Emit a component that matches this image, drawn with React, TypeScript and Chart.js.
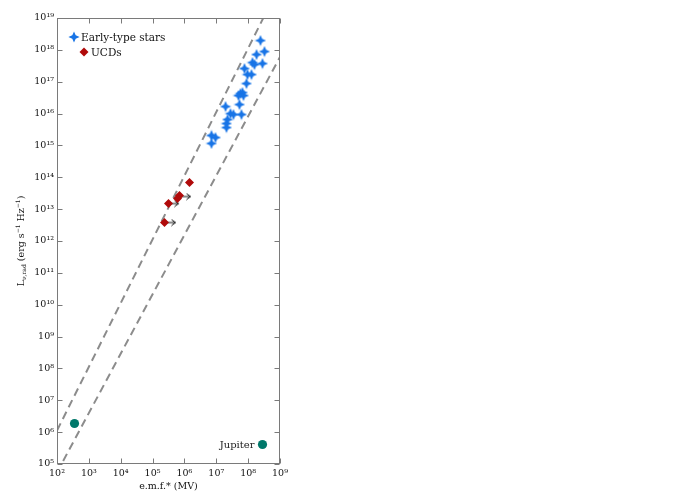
import React, { useEffect, useRef } from "react";
import { Chart, registerables } from "chart.js";

Chart.register(...registerables);

// ---- data ----
const starEmf = [2.44e8, 3.26e8, 1.83e8, 2.82e8, 1.37e8, 1.58e8, 7.67e7, 9.53e7, 1.27e8, 8.87e7, 5.75e7, 6.64e7, 7.14e7, 4.98e7, 5.35e7, 1.95e7, 2.79e7, 3.47e7, 6.18e7, 2.25e7, 2.09e7, 2.09e7, 7.06e6, 9.44e6, 7.06e6];
const starLum = [1.96e18, 8.86e17, 7.13e17, 3.72e17, 4.0e17, 3.46e17, 2.59e17, 1.68e17, 1.68e17, 8.77e16, 4.26e16, 4.57e16, 3.68e16, 3.68e16, 1.92e16, 1.66e16, 1.0e16, 9.33e15, 9.33e15, 6.5e15, 4.87e15, 3.65e15, 2.05e15, 1.77e15, 1.15e15];
const ucdEmf = [1.44e6, 7.0e5, 6.05e5, 3.16e5, 2.37e5];
const ucdLum = [6.86e13, 2.67e13, 2.15e13, 1.5e13, 3.8e12];
const limitEmf = [4.54e5, 1.08e6, 3.65e5];
const limitLum = [1.5e13, 2.49e13, 3.8e12];
const planetEmf = [3.54e2, 2.82e8];
const planetLum = [1.87e6, 4.09e5];
const planetNames = ["", "Jupiter"];
const upperEmf = [1e2, 1e9];
const upperLum = [1.12e6, 1.12e20];
const lowerEmf = [1e2, 1e9];
const lowerLum = [5.46e4, 6.0e17];
const xTickValues = [1e2, 1e3, 1e4, 1e5, 1e6, 1e7, 1e8, 1e9];
const yTickValues = [1e5, 1e6, 1e7, 1e8, 1e9, 1e10, 1e11, 1e12, 1e13, 1e14, 1e15, 1e16, 1e17, 1e18, 1e19];
const legendLabels = ["Early-type stars", "UCDs"];
const xTitle = "e.m.f.* (MV)";

const FONT = "'DejaVu Serif', 'Liberation Serif', serif";
const STAR_COLOR = "#1874e6";
const UCD_COLOR = "#b00a0a";
const PLANET_COLOR = "#00786a";
const SUP = "⁰¹²³⁴⁵⁶⁷⁸⁹";

const pow10Label = (v: number) =>
  "10" + String(Math.round(Math.log10(v))).split("").map((d) => SUP[+d]).join("");

function makeStar(color: string) {
  const size = 12;
  const c = document.createElement("canvas");
  c.width = size;
  c.height = size;
  const g = c.getContext("2d")!;
  const m = size / 2;
  const r = 5.6;
  const ri = 2.4;
  g.fillStyle = color;
  g.beginPath();
  for (let i = 0; i < 8; i++) {
    const ang = (i * Math.PI) / 4 - Math.PI / 2;
    const rr = i % 2 === 0 ? r : ri;
    g.lineTo(m + rr * Math.cos(ang), m + rr * Math.sin(ang));
  }
  g.closePath();
  g.fill();
  return c;
}

function makeArrow() {
  const c = document.createElement("canvas");
  c.width = 13;
  c.height = 8;
  const g = c.getContext("2d")!;
  g.strokeStyle = "#111";
  g.lineWidth = 1;
  g.beginPath();
  g.moveTo(1, 4);
  g.lineTo(11.5, 4);
  g.moveTo(7.5, 1);
  g.lineTo(11.5, 4);
  g.lineTo(7.5, 7);
  g.stroke();
  return c;
}

export default function App() {
  const ref = useRef<HTMLCanvasElement | null>(null);

  useEffect(() => {
    if (!ref.current) return;
    const starImg = makeStar(STAR_COLOR);
    const arrowImg = makeArrow();

    const framePlugin = {
      id: "frame",
      afterDatasetsDraw(chart: any) {
        const { ctx, chartArea: a, scales } = chart;
        const x = scales.x;
        const y = scales.y;
        ctx.save();
        ctx.strokeStyle = "#7a7a7a";
        ctx.lineWidth = 1;
        const l = Math.round(a.left) + 0.5;
        const r = Math.round(a.right) - 0.5;
        const t = Math.round(a.top) + 0.5;
        const b = Math.round(a.bottom) - 0.5;
        ctx.strokeRect(l, t, r - l, b - t);
        const L = 5;
        ctx.beginPath();
        xTickValues.forEach((v) => {
          const p = Math.round(x.getPixelForValue(v)) + 0.5;
          ctx.moveTo(p, b);
          ctx.lineTo(p, b - L);
          ctx.moveTo(p, t);
          ctx.lineTo(p, t + L);
        });
        yTickValues.forEach((v) => {
          const p = Math.round(y.getPixelForValue(v)) + 0.5;
          ctx.moveTo(l, p);
          ctx.lineTo(l + L, p);
          ctx.moveTo(r, p);
          ctx.lineTo(r - L, p);
        });
        ctx.stroke();
        ctx.restore();
      },
    };

    const textPlugin = {
      id: "texts",
      afterDraw(chart: any) {
        const { ctx, chartArea: a } = chart;
        ctx.save();
        // legend
        ctx.fillStyle = "#111";
        ctx.textBaseline = "middle";
        ctx.textAlign = "left";
        ctx.font = `10.5px ${FONT}`;
        const lx = a.left + 17;
        const ly = a.top + 19;
        ctx.drawImage(starImg, lx - starImg.width / 2, ly - starImg.height / 2);
        ctx.fillText(legendLabels[0], lx + 7, ly + 1);
        const dx = lx + 10;
        const dy = ly + 15;
        ctx.fillStyle = UCD_COLOR;
        ctx.beginPath();
        ctx.moveTo(dx, dy - 4.5);
        ctx.lineTo(dx + 4.5, dy);
        ctx.lineTo(dx, dy + 4.5);
        ctx.lineTo(dx - 4.5, dy);
        ctx.closePath();
        ctx.fill();
        ctx.fillStyle = "#111";
        ctx.fillText(legendLabels[1], dx + 7, dy + 1);

        // planet labels
        const meta = chart.getDatasetMeta(3);
        meta.data.forEach((el: any, i: number) => {
          if (!planetNames[i]) return;
          ctx.textAlign = "right";
          ctx.font = `10px ${FONT}`;
          ctx.fillStyle = "#222";
          ctx.fillText(planetNames[i], el.x - 8, el.y + 1);
        });

        // y title with sub/superscripts
        const segs = [
          { t: "L", s: 9.5, d: 0 },
          { t: "ν,rad", s: 6, d: 2.5 },
          { t: " (erg s", s: 9.5, d: 0 },
          { t: "−1", s: 6, d: -3.5 },
          { t: " Hz", s: 9.5, d: 0 },
          { t: "−1", s: 6, d: -3.5 },
          { t: ")", s: 9.5, d: 0 },
        ];
        let total = 0;
        segs.forEach((sg) => {
          ctx.font = `${sg.s}px ${FONT}`;
          total += ctx.measureText(sg.t).width;
        });
        ctx.translate(22, (a.top + a.bottom) / 2);
        ctx.rotate(-Math.PI / 2);
        ctx.textAlign = "left";
        ctx.textBaseline = "middle";
        ctx.fillStyle = "#111";
        let px = -total / 2;
        segs.forEach((sg) => {
          ctx.font = `${sg.s}px ${FONT}`;
          ctx.fillText(sg.t, px, sg.d);
          px += ctx.measureText(sg.t).width;
        });
        ctx.restore();
      },
    };

    const zip = (xs: number[], ys: number[]) => xs.map((v, i) => ({ x: v, y: ys[i] }));

    const chart = new Chart(ref.current, {
      type: "scatter",
      data: {
        datasets: [
          {
            label: legendLabels[0],
            data: zip(starEmf, starLum),
            pointStyle: starImg as any,
            order: 0,
          },
          {
            label: legendLabels[1],
            data: zip(ucdEmf, ucdLum),
            pointStyle: "rectRot",
            pointRadius: 4.5,
            backgroundColor: UCD_COLOR,
            borderColor: UCD_COLOR,
            borderWidth: 0,
            order: 1,
          },
          {
            label: "limits",
            data: zip(limitEmf, limitLum),
            pointStyle: arrowImg as any,
            order: 2,
          },
          {
            label: "planets",
            data: zip(planetEmf, planetLum),
            pointRadius: 4.6,
            backgroundColor: PLANET_COLOR,
            borderColor: PLANET_COLOR,
            borderWidth: 0,
            order: 3,
          },
          {
            label: "upper",
            data: zip(upperEmf, upperLum),
            showLine: true,
            pointRadius: 0,
            borderColor: "#8c8c8c",
            borderWidth: 2,
            borderDash: [8, 5],
            order: 10,
          },
          {
            label: "lower",
            data: zip(lowerEmf, lowerLum),
            showLine: true,
            pointRadius: 0,
            borderColor: "#8c8c8c",
            borderWidth: 2,
            borderDash: [8, 5],
            order: 11,
          },
        ] as any,
      },
      options: {
        animation: false,
        responsive: false,
        devicePixelRatio: 1,
        events: [],
        layout: { padding: { left: 0, right: 420, top: 18, bottom: 0 } },
        plugins: { legend: { display: false }, tooltip: { enabled: false } },
        scales: {
          x: {
            type: "logarithmic",
            min: 1e2,
            max: 1e9,
            afterBuildTicks: (s: any) => {
              s.ticks = xTickValues.map((v) => ({ value: v }));
            },
            afterFit: (s: any) => {
              s.height = 36;
            },
            grid: { display: false, drawTicks: false },
            border: { display: false },
            ticks: {
              callback: (v: any) => pow10Label(Number(v)),
              font: { family: FONT, size: 9.5 },
              color: "#111",
              padding: 4,
              maxRotation: 0,
              autoSkip: false,
            },
            title: {
              display: true,
              text: xTitle,
              font: { family: FONT, size: 9.5 },
              color: "#111",
              padding: { top: 0, bottom: 8 },
            },
          },
          y: {
            type: "logarithmic",
            min: 1e5,
            max: 1e19,
            afterBuildTicks: (s: any) => {
              s.ticks = yTickValues.map((v) => ({ value: v }));
            },
            afterFit: (s: any) => {
              s.width = 57;
            },
            grid: { display: false, drawTicks: false },
            border: { display: false },
            ticks: {
              callback: (v: any) => pow10Label(Number(v)),
              font: { family: FONT, size: 9.5 },
              color: "#111",
              padding: 3,
              autoSkip: false,
            },
          },
        },
      } as any,
      plugins: [framePlugin, textPlugin],
    });
    return () => chart.destroy();
  }, []);

  return (
    <canvas
      ref={ref}
      width={700}
      height={500}
      style={{ position: "fixed", left: 0, top: 0, width: 700, height: 500 }}
    />
  );
}
